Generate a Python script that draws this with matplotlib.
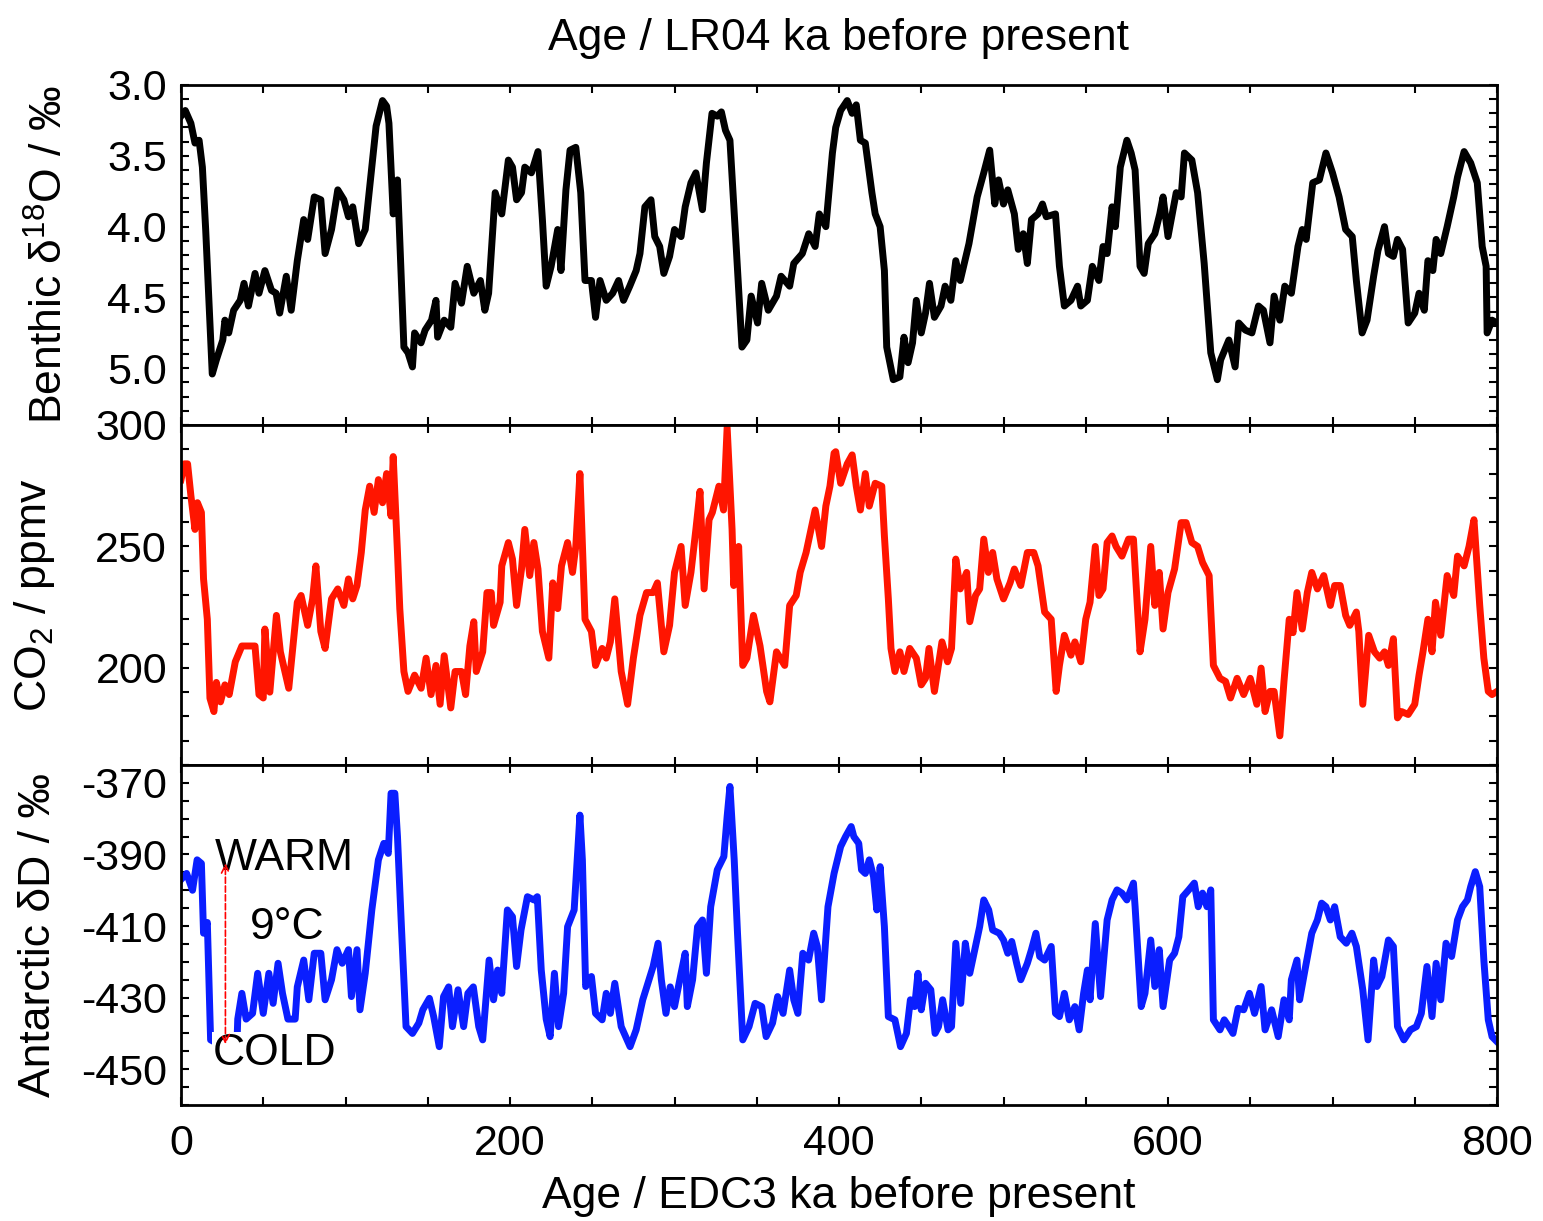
import matplotlib.pyplot as plt
from matplotlib.ticker import MultipleLocator, FuncFormatter

plt.rcParams['font.family'] = ['Liberation Sans', 'DejaVu Sans']
plt.rcParams['mathtext.default'] = 'regular'
plt.rcParams['axes.unicode_minus'] = False

# benthic d18O stack (LR04), ka / permil
benthic_age = [0, 2.6, 6, 8.5, 11, 13, 15, 19, 21.5, 25.4, 26.7, 29, 32, 36, 38.3, 41, 45, 47.4, 51, 55,
               57.8, 60, 64, 67, 70.7, 74.6, 77, 81, 85, 87.6, 91.5, 95.3, 99, 101.8, 104.4, 108, 112, 116,
               118.6, 122.5, 125, 126.4, 129, 131.6, 135.5, 138, 140.7, 142, 145.9, 148.4, 152.3, 155, 156,
               160, 164, 166.6, 170.5, 174, 178, 182, 184.7, 187, 191, 195, 199, 201.5, 204, 207, 209, 213,
               217, 219.7, 222, 225, 229, 231, 234, 236.5, 240, 243, 245.6, 249.5, 252, 254.7, 258.5, 262.4,
               266, 269, 272.8, 276.7, 279, 282, 285.7, 288, 291, 293.5, 297, 300, 304, 306.5, 310, 313, 317,
               319.4, 322.8, 326, 328.5, 331, 333.7, 337.6, 341, 344, 346.6, 350.5, 353, 357, 362, 364.8, 370,
               372.5, 377.7, 381.6, 385.5, 388, 392, 396, 398, 401, 405, 408, 410.5, 413, 416, 420, 422, 425,
               427.6, 429, 433, 437, 439.5, 442, 444.7, 447, 450, 452.6, 455, 458, 462, 464.5, 468, 471, 473.7,
               479, 481.6, 484, 488, 491.6, 494.7, 497, 500, 502.6, 506.6, 509, 512, 514.5, 517, 521, 523.7,
               526, 531.6, 534, 537, 541, 545, 547, 551, 554, 558, 560.5, 563, 566, 568, 571, 575, 577.6, 580,
               583, 585.5, 588, 592, 595, 597, 600, 602.6, 605, 608, 610, 614.5, 618, 622, 626, 630, 632, 637,
               640.8, 643, 647, 651, 655, 658, 662, 664.5, 668, 671, 675, 679, 681.6, 684, 688, 692, 696, 700,
               704, 708, 712, 714.5, 718, 721, 725, 727.6, 731.6, 734, 737, 739.5, 742.6, 746, 750, 752.6,
               755.8, 758, 761, 763, 765.8, 769.7, 773.7, 776, 780, 784, 788, 791, 793.4, 794, 797, 800]
benthic_d18o = [3.22, 3.18, 3.27, 3.41, 3.39, 3.58, 4.02, 5.04, 4.94, 4.80, 4.66, 4.75, 4.59, 4.52, 4.40, 4.56,
                4.33, 4.47, 4.31, 4.45, 4.47, 4.61, 4.35, 4.59, 4.24, 3.95, 4.09, 3.79, 3.81, 4.19, 4.02, 3.74,
                3.81, 3.93, 3.86, 4.12, 4.02, 3.58, 3.29, 3.11, 3.15, 3.27, 3.91, 3.67, 4.85, 4.89, 4.99, 4.75,
                4.82, 4.73, 4.66, 4.52, 4.78, 4.66, 4.71, 4.40, 4.54, 4.28, 4.47, 4.38, 4.59, 4.47, 3.76, 3.91,
                3.53, 3.58, 3.81, 3.76, 3.58, 3.62, 3.47, 3.95, 4.42, 4.28, 4.02, 4.31, 3.74, 3.46, 3.44, 3.76,
                4.38, 4.38, 4.64, 4.38, 4.52, 4.47, 4.38, 4.52, 4.42, 4.31, 4.19, 3.86, 3.81, 4.07, 4.14, 4.33,
                4.21, 4.02, 4.07, 3.86, 3.69, 3.62, 3.88, 3.55, 3.20, 3.22, 3.19, 3.32, 3.39, 4.16, 4.85, 4.80,
                4.49, 4.68, 4.40, 4.59, 4.49, 4.35, 4.42, 4.26, 4.19, 4.05, 4.14, 3.91, 4.00, 3.48, 3.30, 3.18,
                3.11, 3.20, 3.14, 3.39, 3.41, 3.76, 3.91, 4.00, 4.31, 4.85, 5.08, 5.06, 4.78, 4.96, 4.82, 4.52,
                4.75, 4.61, 4.40, 4.64, 4.56, 4.42, 4.52, 4.24, 4.38, 4.12, 3.95, 3.79, 3.62, 3.46, 3.84, 3.67,
                3.84, 3.74, 3.91, 4.16, 4.05, 4.26, 3.95, 3.91, 3.84, 3.93, 3.91, 4.28, 4.56, 4.52, 4.42, 4.56,
                4.52, 4.28, 4.38, 4.14, 4.19, 3.86, 4.00, 3.58, 3.39, 3.48, 3.60, 4.28, 4.33, 4.12, 4.05, 3.91,
                3.79, 4.07, 3.91, 3.76, 3.79, 3.48, 3.53, 3.76, 4.26, 4.89, 5.08, 4.94, 4.80, 4.99, 4.68, 4.73,
                4.75, 4.56, 4.59, 4.82, 4.49, 4.66, 4.42, 4.47, 4.14, 4.02, 4.09, 3.69, 3.67, 3.48, 3.62, 3.79,
                4.02, 4.07, 4.38, 4.75, 4.66, 4.35, 4.17, 4.00, 4.19, 4.21, 4.09, 4.16, 4.68, 4.61, 4.47, 4.59,
                4.24, 4.31, 4.09, 4.19, 4.00, 3.79, 3.65, 3.47, 3.55, 3.69, 4.14, 4.28, 4.75, 4.66, 4.68]

# EPICA Dome C CO2, ka / ppmv
co2_age = [0, 2, 4, 6, 8.5, 10, 12.4, 13.7, 16, 17.6, 20, 21.5, 24, 26.7, 29.3, 33, 37, 41, 45, 47.4, 50, 51,
           54, 58, 60.4, 65.5, 70.7, 73, 77, 80, 82, 85, 87.6, 91.5, 95.3, 99, 101.8, 104.4, 107, 109.6, 112,
           114.7, 117.4, 120, 122.5, 125, 127.7, 129, 131.6, 133, 135.5, 138, 142, 146, 149, 152, 155, 157.5,
           160, 164, 166.6, 170.5, 173, 175.6, 178, 179.5, 183.4, 186, 188.6, 190, 194, 195, 199, 201.5, 204,
           207, 209, 212, 214.5, 217, 219.7, 223.6, 226, 229, 231.3, 235, 238, 240, 242.5, 245.6, 249.5, 252,
           256, 258.5, 261, 263.7, 267.6, 270, 271.5, 275, 279, 283, 287, 289.6, 293.5, 297, 300, 304, 306.5,
           310, 313, 315.5, 318, 321, 323, 327, 329.8, 332, 335, 336, 339, 341.5, 344, 348, 352, 356, 358,
           362, 367, 370, 374, 376.4, 380, 385.5, 389.4, 392, 394.5, 397, 398, 401, 405, 408, 410.5, 413, 416,
           418.4, 422, 426, 427.6, 430, 431.6, 434, 437, 439.5, 443, 447, 450, 452.6, 454.7, 458, 462.6, 466,
           468.4, 471, 473.7, 477.6, 479.5, 483, 485.5, 488, 490.8, 493.4, 496, 500, 504, 506.6, 510.5, 514.5,
           518.4, 521, 525, 529, 532, 534, 537, 541, 543.4, 547, 550, 552.6, 555.8, 558, 560.5, 563, 566,
           568.4, 572, 576, 579, 583, 586, 589.5, 592, 594.7, 597, 600, 604, 608, 611, 614.5, 618, 621, 625,
           627.6, 631.6, 635, 638, 642, 646, 650, 654, 656.6, 659, 662, 664.5, 668, 670.5, 673.7, 676, 678.4,
           681.6, 684.7, 687.4, 690.8, 694.7, 698.7, 701.3, 704.7, 708, 710.5, 714.5, 716, 718.4, 722, 725.5,
           728.7, 731.6, 734, 737, 739.5, 742, 746, 750, 752.6, 755, 758, 760.5, 762.6, 765.8, 769.7, 773.7,
           776, 780, 783, 786, 789.5, 792, 794.7, 797, 800]
co2_ppmv = [277.5, 284, 284, 271, 257, 268, 264, 236.6, 220, 187.5, 182, 194, 186, 193, 189, 202.5, 209, 209,
            209, 189, 187.6, 216, 190, 221.6, 206.6, 191.6, 227, 229.8, 217.5, 228.4, 242, 215, 208, 228.4,
            232.5, 225.7, 236.6, 228.4, 233.9, 247.5, 265, 274.8, 264, 277.5, 268, 280, 262.5, 287, 247.5,
            224.4, 198.5, 190.3, 197, 191.6, 204, 189, 201, 185, 205, 183.5, 198.5, 198.5, 189, 209, 219, 198.5,
            206.6, 231, 231, 217.5, 227, 242, 251.6, 244.8, 225.7, 240.7, 257, 238, 251.6, 240.7, 215, 204,
            235, 224.4, 242, 251.6, 239.3, 250, 280, 220, 215, 201, 208, 204, 210.7, 228.4, 198.5, 190.3, 185,
            204, 221.6, 231, 231, 235, 206.6, 217.5, 239.3, 250, 225.7, 239.3, 257, 272.7, 232.5, 261, 264,
            274.8, 265, 299, 257, 233.9, 250, 201, 204, 221.6, 209, 190.3, 186, 206.6, 201, 225.7, 229.8,
            239.3, 247.5, 265, 250, 266.6, 274.8, 288.4, 289, 276, 284, 287.7, 274.8, 265, 280, 266.6, 276,
            274.8, 254.3, 228.4, 208, 198.5, 206.6, 198.5, 208, 204, 193, 195.7, 208, 190.3, 210.7, 202.5, 208,
            244.8, 232.5, 239.3, 219, 229.8, 232.5, 253, 239.3, 247.5, 236.6, 228.4, 235, 240.7, 233.9, 247.5,
            247.5, 242, 223, 220, 190.3, 201, 213.4, 205.2, 210.7, 202.5, 220, 227, 250, 229.8, 232.5, 251.6,
            254.3, 250, 246, 253, 253, 206.6, 220, 250, 225.7, 239.3, 216, 231, 240.7, 259.8, 259.8, 251.6,
            250, 243.4, 238, 201, 195.7, 194.4, 187.6, 195.7, 189, 195.7, 185, 199.9, 182, 190.3, 190.3, 172,
            194.4, 220, 214.5, 231, 216, 231, 239.3, 232.5, 238, 225.7, 233.9, 233.9, 221.6, 217.5, 223, 215,
            185, 213.4, 206.6, 204, 206.6, 201, 212, 179.4, 182, 180.8, 185, 197, 206.6, 220, 206.6, 227,
            213.4, 238, 229.8, 246, 242, 250, 261, 225.7, 204, 190.3, 189, 190.3]

# EPICA Dome C deuterium, ka / permil
dD_age = [0, 3.4, 7, 9.8, 12.4, 13.7, 16, 18, 23, 29, 34, 34.5, 37, 39.6, 43.5, 46.6, 50, 53.4, 56, 59, 61.7,
          65, 69.4, 70.7, 74.6, 77.7, 81, 85, 87.6, 91.5, 94.8, 98, 101.8, 103.6, 107, 108.8, 112, 116, 120,
          123.3, 126, 127.7, 130, 131.6, 134, 136.8, 140.7, 144.6, 147, 151, 153.6, 157, 159.6, 162.7, 165,
          168.4, 171.8, 174.4, 177.7, 181, 183.4, 187.3, 190, 192.5, 195, 198.4, 201.5, 204, 206.7, 210.6,
          214.5, 216.6, 219, 222, 224.4, 227, 229.5, 232.6, 235, 239, 242.5, 244, 246, 249.5, 252, 256, 258.5,
          261, 263.7, 267.6, 273, 276.7, 280.7, 284.5, 287, 290, 292, 294.8, 297.4, 300, 304, 306.5, 307.8,
          311, 314, 317, 319.4, 322, 326, 330, 332, 333.7, 336.3, 338.3, 341.5, 345.3, 349, 353, 355.7, 359.6,
          362.7, 366, 370, 372.5, 375, 378, 381.5, 384.6, 386.8, 389.4, 393.3, 397, 401, 404, 407.4, 409, 412,
          413.7, 416, 418.4, 421, 423, 425, 427.6, 430, 434, 437.4, 441, 443.4, 446, 448, 450, 452.6, 455.8,
          458.4, 460.5, 463, 466.3, 468.4, 471, 474, 476.8, 479.5, 483, 485.5, 488, 491, 493.4, 497.4, 500,
          502.6, 505, 508, 510.5, 514.5, 517, 519.7, 522, 525, 529, 531.6, 534, 537, 540, 543.4, 546, 548.7,
          551, 552.6, 555.8, 559, 563, 566, 569, 572, 575, 579, 580, 583.7, 586, 589.5, 592, 594.7, 597, 601,
          604, 606.6, 609, 612.6, 616, 618.4, 621, 623.7, 626, 627.6, 631.6, 634.2, 637, 639.5, 642.6, 646,
          649.5, 652.6, 656.6, 659, 663, 667, 670.5, 673.7, 675, 678.4, 680, 682.9, 687.4, 690.8, 693.4, 696,
          698.7, 701.3, 704.7, 708.4, 711.8, 714.5, 718.4, 721.6, 725, 727, 730, 734, 737, 739.5, 743.4,
          747.4, 751, 754, 757.4, 760.5, 763, 765.8, 769, 772.4, 776, 779, 782, 784, 786.8, 789.5, 792, 794.7,
          797, 800]
dD_permil = [-397, -395.3, -400, -391.5, -392.5, -412, -409, -441.8, -443, -443, -443, -436, -428.8, -436,
             -434.4, -423.2, -434.4, -423.2, -431.6, -420.4, -428.8, -436, -436, -427, -419.5, -430.6, -417.6,
             -417.6, -430.6, -425, -416.6, -420.4, -416.6, -429.7, -416.6, -433.4, -423.2, -405.5, -391.5,
             -386.9, -389.7, -372.9, -372.9, -385, -410.2, -438.1, -440, -437.1, -433.4, -430.2, -435.3,
             -443.7, -429.7, -427, -438.1, -427.8, -438.1, -428.8, -427, -438.1, -441.8, -419.5, -430.6,
             -422.3, -428.8, -405.5, -407.4, -421.3, -411.1, -401.8, -402.7, -401.8, -422.3, -436, -440.9,
             -423.2, -438.1, -428.8, -410.2, -405.5, -379, -391.5, -426.9, -424.1, -434.4, -436.2, -428.8,
             -434.4, -426, -438.1, -443.7, -439, -430.6, -425, -421.3, -414.8, -425, -434.4, -427, -432.5,
             -423.2, -417.6, -432.5, -425, -410.2, -408.3, -423.2, -404.6, -394.3, -390.6, -379.4, -371,
             -391.5, -412, -441.8, -438.1, -431.6, -432.5, -440.9, -437.1, -429.7, -434.4, -422.3, -430.6,
             -434.4, -417.6, -419.5, -412, -415.7, -430.6, -404.6, -395.3, -387.8, -385, -382.2, -385, -386.9,
             -394.3, -395.3, -391.5, -396.2, -405.5, -393.4, -410.2, -435.3, -436.2, -443.7, -440, -430.6,
             -432.5, -423.2, -433.4, -426, -427.8, -440, -438.1, -430.6, -439, -438.1, -414.8, -431.6, -414.8,
             -423.2, -415.7, -410.2, -402.7, -405.5, -411.1, -412, -413.9, -417.6, -414.3, -420.4, -425,
             -420.4, -416.6, -412, -418.5, -419.5, -415.7, -434.4, -435.3, -428.8, -436.2, -432.5, -439,
             -428.8, -422.3, -430.6, -409.3, -429.7, -408.3, -402.7, -399.9, -400.8, -402.7, -398, -404.6,
             -432.5, -428.8, -413.9, -426.9, -416.6, -432.5, -419.5, -417.6, -413, -401.8, -399.9, -398,
             -404.6, -400.8, -404.6, -399.9, -436.2, -439, -436.2, -438.1, -440, -433, -433.4, -428.8, -434.4,
             -426.9, -439, -433.4, -440.9, -430.6, -436.2, -425, -419.5, -430.6, -423.2, -412, -408.3, -403.6,
             -404.6, -408.3, -404.6, -413, -414.8, -412, -415.7, -427.8, -441.8, -419.5, -426.9, -424.1,
             -413.9, -415.7, -438.1, -441.8, -439, -438.1, -434.4, -421.3, -435.3, -420.4, -430.6, -414.8,
             -418.5, -408.3, -404.6, -402.7, -399, -394.8, -399, -419.5, -436.2, -440.9, -442.3]

TICK_FS = 31
FS = 32
fig = plt.figure(figsize=(15.43, 12.21), dpi=100)
left, width = 181 / 1543, 1316 / 1543
h = 340 / 1221
ax1 = fig.add_axes([left, 1 - 425 / 1221, width, h])
ax2 = fig.add_axes([left, 1 - 765 / 1221, width, h], sharex=ax1)
ax3 = fig.add_axes([left, 1 - 1105 / 1221, width, h], sharex=ax1)

ax1.plot(benthic_age, benthic_d18o, color='black', lw=5, solid_joinstyle='round')
ax2.plot(co2_age, co2_ppmv, color='#ff1500', lw=5, solid_joinstyle='round')
ax3.plot(dD_age, dD_permil, color='#0a1eff', lw=5, solid_joinstyle='round')

ax1.set_xlim(0, 800)
ax1.set_ylim(5.4, 3.0)
ax2.set_ylim(160, 300)
ax3.set_ylim(-460, -365)

ax1.yaxis.set_major_locator(MultipleLocator(0.5))
ax1.yaxis.set_minor_locator(MultipleLocator(0.1))
ax1.yaxis.set_major_formatter(FuncFormatter(lambda v, p: '%.1f' % v if v <= 5.05 else ''))
ax2.yaxis.set_major_locator(MultipleLocator(50))
ax2.yaxis.set_minor_locator(MultipleLocator(10))
ax2.yaxis.set_major_formatter(FuncFormatter(lambda v, p: '%d' % v if v >= 200 else ''))
ax3.set_yticks([-450, -430, -410, -390, -370])
ax3.yaxis.set_minor_locator(MultipleLocator(5))
ax3.xaxis.set_major_locator(MultipleLocator(200))
ax3.xaxis.set_minor_locator(MultipleLocator(50))

for ax in (ax1, ax2, ax3):
    ax.tick_params(which='both', direction='in', top=True, right=True,
                   length=6, width=1.5, labelsize=TICK_FS)
    ax.tick_params(axis='y', pad=10)
    ax.tick_params(axis='x', pad=14)
    for s in ax.spines.values():
        s.set_linewidth(2)
for ax in (ax1, ax2):
    ax.tick_params(labelbottom=False)

ax1.set_title('Age / LR04 ka before present', fontsize=FS, pad=25)
ax3.set_xlabel('Age / EDC3 ka before present', fontsize=FS, labelpad=8)

ax1.set_ylabel('Benthic δ$^{18}$O / ‰', fontsize=FS)
ax2.set_ylabel('CO$_2$ / ppmv', fontsize=FS)
ax3.set_ylabel('Antarctic δD / ‰', fontsize=FS)
ax1.yaxis.set_label_coords(-0.083, 0.5)
ax2.yaxis.set_label_coords(-0.094, 0.5)
ax3.yaxis.set_label_coords(-0.093, 0.5)

# temperature range annotation
ax3.annotate('', xy=(27, -392.5), xytext=(27, -443),
             arrowprops=dict(arrowstyle='<->', color='red', linestyle='--', lw=1.2,
                             mutation_scale=14, shrinkA=0, shrinkB=0), zorder=5)
ax3.text(20.5, -394.2, 'WARM', fontsize=FS, va='baseline')
ax3.text(19.5, -448.9, 'COLD', fontsize=FS, va='baseline', zorder=4,
         bbox=dict(facecolor='white', edgecolor='none', pad=1))
ax3.text(42, -413.6, '9°C', fontsize=FS, va='baseline')

fig.savefig('out.png', dpi=100)
